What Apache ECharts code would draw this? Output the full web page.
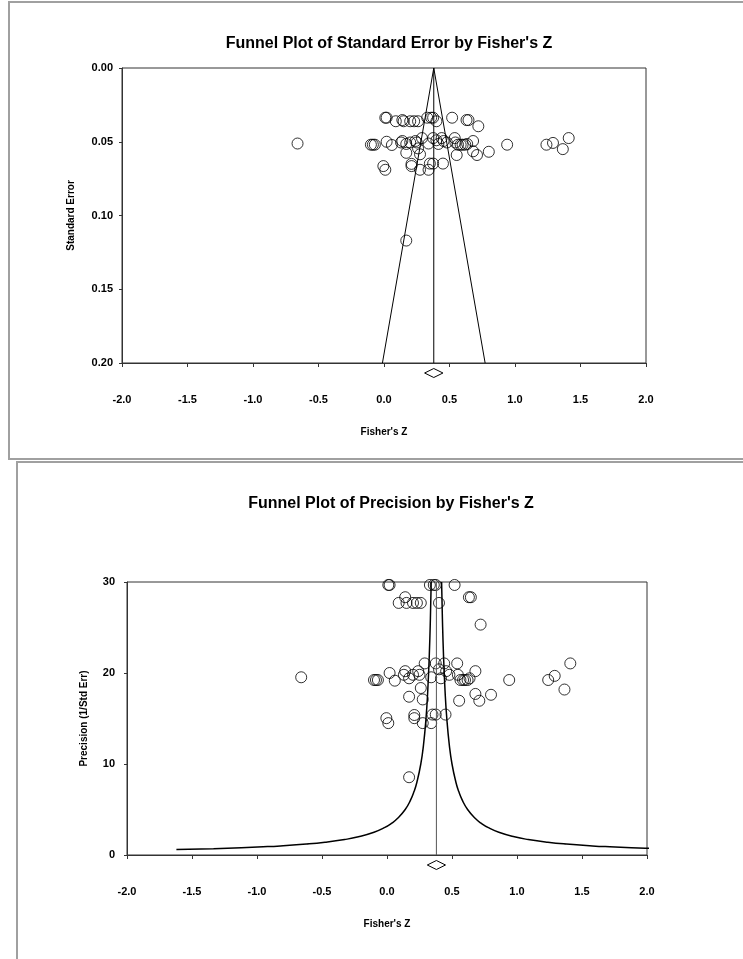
<!DOCTYPE html>
<html>
<head>
<meta charset="utf-8">
<script src="https://cdn.jsdelivr.net/npm/echarts@6/dist/echarts.min.js"></script>
<style>
  html, body { margin: 0; padding: 0; background: #fff; }
  #chart { width: 743px; height: 959px; }
</style>
</head>
<body>
<div id="chart"></div>
<script>
// study effects (Fisher's Z) and their standard errors
const fisherZ = [
  0.01, 0.02, 0.33, 0.36, 0.375, 0.52,
  0.14, 0.63, 0.645,
  0.09, 0.15, 0.20, 0.23, 0.26, 0.40,
  0.72,
  -0.66, -0.10, -0.085, -0.07, 0.02, 0.06, 0.13, 0.14, 0.17, 0.20,
  0.24, 0.25, 0.29, 0.26, 0.17, 0.275, 0.34, 0.375, 0.40, 0.415,
  0.44, 0.455, 0.48, 0.54, 0.545, 0.565, 0.585, 0.60, 0.62, 0.635,
  0.68, 0.68, 0.71, 0.555, 0.80, 0.94, 1.24, 1.29, 1.41, 1.365,
  -0.005, 0.01, 0.21, 0.21, 0.275, 0.34, 0.35, 0.375, 0.45,
  0.17
];
const stdErr = [
  0.0337, 0.0337, 0.0337, 0.0337, 0.0337, 0.0337,
  0.0353, 0.0353, 0.0353,
  0.0361, 0.0361, 0.0361, 0.0361, 0.0361, 0.0361,
  0.0395,
  0.0512, 0.052, 0.052, 0.052, 0.050, 0.0522, 0.0505, 0.0495, 0.0515, 0.0505,
  0.0495, 0.0505, 0.0475, 0.0545, 0.0575, 0.0585, 0.0512, 0.0475, 0.049, 0.0515,
  0.0475, 0.0495, 0.0505, 0.0475, 0.0505, 0.052, 0.052, 0.052, 0.052, 0.0515,
  0.0495, 0.0565, 0.059, 0.059, 0.0568, 0.052, 0.052, 0.0508, 0.0475, 0.055,
  0.0665, 0.069, 0.065, 0.0665, 0.069, 0.069, 0.0648, 0.0648, 0.0648,
  0.117
];
const meanZ = 0.38;
const ciHalf = 0.07;

const xTicks = [-2, -1.5, -1, -0.5, 0, 0.5, 1, 1.5, 2];
const seTicks = [0, 0.05, 0.1, 0.15, 0.2];
const precTicks = [0, 10, 20, 30];

// precision levels where the lower funnel curve is sampled
const precLevels = [0.6, 0.7, 0.8, 0.9, 1, 1.2, 1.4, 1.7, 2, 2.5, 3, 3.5, 4, 5, 6, 7, 8, 10, 12, 15, 18, 22, 26, 30];

const chart = echarts.init(document.getElementById('chart'));

const seMax = seTicks[seTicks.length - 1];
const precMax = precTicks[precTicks.length - 1];
const font = 'Liberation Sans, Arial, sans-serif';

const topPoints = fisherZ.map((z, i) => [z, stdErr[i]]);
const bottomPoints = fisherZ.map((z, i) => [z, 1 / stdErr[i]]);

const leftCurve = precLevels.map(p => [meanZ - 1.2 / p, p]);
const rightCurve = precLevels.map(p => [meanZ + 1.2 / p, p]);

function diamondItem(yVal) {
  return function (params, api) {
    const c = api.coord([api.value(0), yVal]);
    const l = api.coord([api.value(0) - api.value(1), yVal]);
    const hw = c[0] - l[0];
    const cy = c[1] + 10;
    return {
      type: 'polygon',
      shape: { points: [[c[0] - hw, cy], [c[0], cy - 4.5], [c[0] + hw, cy], [c[0], cy + 4.5]] },
      style: { fill: '#fff', stroke: '#000', lineWidth: 1 }
    };
  };
}

const axisLabelStyle = { color: '#000', fontWeight: 'bold', fontSize: 11, fontFamily: font };
const nameStyle = { color: '#000', fontWeight: 'bold', fontSize: 10, fontFamily: font };
const pointStyle = { color: 'transparent', borderColor: '#000', borderWidth: 1 };

function xAxisFor(gridIndex) {
  return {
    gridIndex: gridIndex,
    type: 'value',
    min: xTicks[0], max: xTicks[xTicks.length - 1], interval: 0.5,
    name: "Fisher's Z",
    nameLocation: 'middle',
    nameGap: 64,
    nameTextStyle: nameStyle,
    axisLine: { onZero: false, lineStyle: { color: '#333', width: 1 } },
    axisTick: { show: true, length: 4, lineStyle: { color: '#333' } },
    axisLabel: Object.assign({ margin: 31, formatter: v => v.toFixed(1) }, axisLabelStyle),
    splitLine: { show: false }
  };
}

const option = {
  backgroundColor: '#fff',
  animation: false,
  graphic: [
    { type: 'rect', shape: { x: 9, y: 2, width: 800, height: 457 }, style: { fill: 'none', stroke: '#a0a0a0', lineWidth: 2 } },
    { type: 'rect', shape: { x: 17, y: 462, width: 800, height: 600 }, style: { fill: 'none', stroke: '#a0a0a0', lineWidth: 2 } }
  ],
  title: [
    { text: "Funnel Plot of Standard Error by Fisher's Z", left: 384, top: 31, textAlign: 'center',
      textStyle: { fontSize: 16, fontWeight: 'bold', fontFamily: font, color: '#000' } },
    { text: "Funnel Plot of Precision by Fisher's Z", left: 386, top: 491, textAlign: 'center',
      textStyle: { fontSize: 16, fontWeight: 'bold', fontFamily: font, color: '#000' } }
  ],
  grid: [
    { left: 122, top: 68, width: 524, height: 295, show: true, borderColor: '#333', borderWidth: 1 },
    { left: 127, top: 582, width: 520, height: 273, show: true, borderColor: '#333', borderWidth: 1 }
  ],
  xAxis: [xAxisFor(0), xAxisFor(1)],
  yAxis: [
    {
      gridIndex: 0, type: 'value', inverse: true,
      min: seTicks[0], max: seMax, interval: 0.05,
      name: 'Standard Error', nameLocation: 'middle', nameGap: 46,
      nameTextStyle: nameStyle,
      axisLine: { show: true, onZero: false, lineStyle: { color: '#333' } },
      axisTick: { show: true, length: 3, lineStyle: { color: '#333' } },
      axisLabel: Object.assign({ margin: 9, formatter: v => v.toFixed(2) }, axisLabelStyle),
      splitLine: { show: false }
    },
    {
      gridIndex: 1, type: 'value',
      min: precTicks[0], max: precMax, interval: 10,
      name: 'Precision (1/Std Err)', nameLocation: 'middle', nameGap: 38,
      nameTextStyle: nameStyle,
      axisLine: { show: true, onZero: false, lineStyle: { color: '#333' } },
      axisTick: { show: true, length: 3, lineStyle: { color: '#333' } },
      axisLabel: Object.assign({ margin: 12 }, axisLabelStyle),
      splitLine: { show: false }
    }
  ],
  series: [
    {
      type: 'line', xAxisIndex: 0, yAxisIndex: 0, symbol: 'none', silent: true,
      data: [[meanZ - 1.96 * seMax, seMax], [meanZ, 0], [meanZ + 1.96 * seMax, seMax]],
      lineStyle: { color: '#000', width: 1 }
    },
    {
      type: 'line', xAxisIndex: 0, yAxisIndex: 0, symbol: 'none', silent: true,
      data: [[meanZ, 0], [meanZ, seMax]],
      lineStyle: { color: '#000', width: 1 }
    },
    {
      type: 'scatter', xAxisIndex: 0, yAxisIndex: 0, symbol: 'circle', symbolSize: 11,
      data: topPoints, itemStyle: pointStyle
    },
    {
      type: 'custom', xAxisIndex: 0, yAxisIndex: 0, clip: false,
      data: [[meanZ, ciHalf]], renderItem: diamondItem(seMax)
    },
    {
      type: 'line', xAxisIndex: 1, yAxisIndex: 1, symbol: 'none', smooth: true, silent: true,
      data: leftCurve, lineStyle: { color: '#000', width: 1.5 }
    },
    {
      type: 'line', xAxisIndex: 1, yAxisIndex: 1, symbol: 'none', smooth: true, silent: true,
      data: rightCurve, lineStyle: { color: '#000', width: 1.5 }
    },
    {
      type: 'line', xAxisIndex: 1, yAxisIndex: 1, symbol: 'none', silent: true,
      data: [[meanZ, 0], [meanZ, precMax]],
      lineStyle: { color: '#555', width: 1 }
    },
    {
      type: 'scatter', xAxisIndex: 1, yAxisIndex: 1, symbol: 'circle', symbolSize: 11,
      data: bottomPoints, itemStyle: pointStyle
    },
    {
      type: 'custom', xAxisIndex: 1, yAxisIndex: 1, clip: false,
      data: [[meanZ, ciHalf]], renderItem: diamondItem(0)
    }
  ]
};

chart.setOption(option);
</script>
</body>
</html>
